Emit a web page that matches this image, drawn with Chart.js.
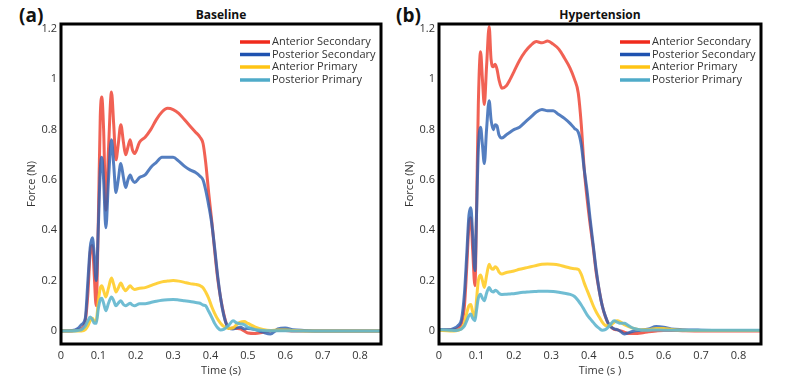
<!DOCTYPE html>
<html>
<head>
<meta charset="utf-8">
<script src="https://cdn.jsdelivr.net/npm/chart.js@4.4.1/dist/chart.umd.min.js"></script>
<style>
  body { margin: 0; background: #fff; width: 800px; height: 387px; position: relative; overflow: hidden; font-family: "Open Sans", sans-serif; }
  canvas { position: absolute; top: 0; }
  .tag { position: absolute; top: 2px; font-weight: bold; font-size: 19px; color: #111; }
  .ttl { position: absolute; top: 6px; font-weight: bold; font-size: 12px; color: #111; transform: translateX(-50%); }
</style>
</head>
<body>
<div class="tag" style="left:19px">(a)</div>
<div class="ttl" style="left:221px">Baseline</div>
<div class="tag" style="left:396px">(b)</div>
<div class="ttl" style="left:600px">Hypertension</div>
<canvas id="baseChart" width="400" height="387" style="left:0"></canvas>
<canvas id="hypChart" width="400" height="387" style="left:400px"></canvas>

<script>
// series names + colours
const seriesNames = ["Anterior Secondary", "Posterior Secondary", "Anterior Primary", "Posterior Primary"];
const lineColors = ["rgba(238,62,46,0.82)", "rgba(46,98,178,0.82)", "rgba(255,204,40,0.9)", "rgba(96,182,206,0.9)"];
const legendColors = ["#f02a1c", "#1f52b0", "#ffc414", "#4fabc9"];

const xTicks = [0, 0.1, 0.2, 0.3, 0.4, 0.5, 0.6, 0.7, 0.8];
const yTicks = [0, 0.2, 0.4, 0.6, 0.8, 1, 1.2];

// (a) Baseline
const baseTime = [0, 0.03, 0.045, 0.055, 0.065, 0.072, 0.078, 0.084, 0.089, 0.094,
  0.1, 0.105, 0.109, 0.114, 0.12, 0.127, 0.135, 0.141, 0.147, 0.153,
  0.16, 0.167, 0.173, 0.179, 0.185, 0.191, 0.197, 0.21, 0.225, 0.24,
  0.255, 0.27, 0.285, 0.3, 0.315, 0.33, 0.345, 0.36, 0.372, 0.38,
  0.387, 0.395, 0.403, 0.411, 0.419, 0.427, 0.435, 0.443, 0.45, 0.46,
  0.47, 0.48, 0.49, 0.5, 0.52, 0.54, 0.56, 0.58, 0.6, 0.62,
  0.65, 0.7, 0.75, 0.8, 0.86];
const baseAntSec = [0, 0, 0.005, 0.01, 0.04, 0.15, 0.31, 0.34, 0.22, 0.10,
  0.45, 0.85, 0.93, 0.8, 0.48, 0.72, 0.95, 0.82, 0.68, 0.74,
  0.82, 0.75, 0.70, 0.73, 0.76, 0.72, 0.705, 0.75, 0.77, 0.80,
  0.84, 0.87, 0.885, 0.88, 0.865, 0.84, 0.815, 0.79, 0.77, 0.745,
  0.67, 0.55, 0.44, 0.32, 0.21, 0.13, 0.07, 0.025, 0.01, 0.012,
  0.01, 0.008, 0, -0.008, -0.01, -0.005, 0, 0.002, 0.002, 0,
  0, 0, 0, 0, 0];
const basePostSec = [0, 0.002, 0.01, 0.025, 0.05, 0.2, 0.33, 0.37, 0.3, 0.2,
  0.42, 0.64, 0.69, 0.6, 0.41, 0.6, 0.76, 0.66, 0.55, 0.6,
  0.665, 0.61, 0.57, 0.6, 0.62, 0.6, 0.59, 0.61, 0.62, 0.65,
  0.67, 0.69, 0.69, 0.69, 0.675, 0.655, 0.64, 0.63, 0.615, 0.6,
  0.56, 0.5, 0.43, 0.33, 0.22, 0.13, 0.065, 0.025, 0.01, 0.008,
  0.012, 0.015, 0.008, 0.01, 0.005, -0.005, -0.012, 0.008, 0.012, 0.005,
  0.002, 0, 0, 0, 0];
const baseAntPri = [0, 0, 0, 0, 0.005, 0.02, 0.04, 0.05, 0.04, 0.04,
  0.12, 0.17, 0.18, 0.16, 0.135, 0.17, 0.21, 0.185, 0.155, 0.17,
  0.19, 0.17, 0.16, 0.17, 0.18, 0.17, 0.165, 0.17, 0.172, 0.18,
  0.188, 0.195, 0.198, 0.2, 0.198, 0.193, 0.188, 0.185, 0.18, 0.172,
  0.155, 0.13, 0.097, 0.07, 0.047, 0.03, 0.018, 0.012, 0.01, 0.012,
  0.025, 0.035, 0.037, 0.03, 0.015, 0.006, 0.002, 0.004, 0.004, 0.002,
  0, 0, 0, 0, 0];
const basePostPri = [0, 0, 0.002, 0.005, 0.02, 0.04, 0.055, 0.045, 0.03, 0.03,
  0.09, 0.125, 0.13, 0.11, 0.08, 0.11, 0.135, 0.12, 0.1, 0.11,
  0.12, 0.105, 0.1, 0.105, 0.11, 0.103, 0.1, 0.108, 0.108, 0.113,
  0.118, 0.122, 0.124, 0.125, 0.123, 0.12, 0.117, 0.113, 0.11, 0.103,
  0.1, 0.078, 0.055, 0.03, 0.013, 0.004, 0.006, 0.015, 0.025, 0.04,
  0.032, 0.028, 0.025, 0.015, 0.005, 0.002, 0.001, 0.001, 0.001, 0,
  0, 0, 0, 0, 0];

// (b) Hypertension
const hypTime = [0, 0.03, 0.04, 0.05, 0.06, 0.068, 0.074, 0.08, 0.085, 0.09,
  0.096, 0.1, 0.105, 0.111, 0.116, 0.121, 0.127, 0.134, 0.139, 0.145,
  0.15, 0.155, 0.16, 0.168, 0.18, 0.19, 0.2, 0.215, 0.23, 0.245,
  0.26, 0.275, 0.29, 0.305, 0.32, 0.335, 0.35, 0.362, 0.372, 0.38,
  0.388, 0.396, 0.404, 0.412, 0.42, 0.428, 0.436, 0.444, 0.452, 0.46,
  0.468, 0.476, 0.485, 0.495, 0.505, 0.52, 0.54, 0.56, 0.58, 0.6,
  0.62, 0.65, 0.7, 0.75, 0.8, 0.86];
const hypAntSec = [0.005, 0.005, 0.005, 0.01, 0.03, 0.1, 0.25, 0.42, 0.45, 0.32,
  0.18, 0.45, 0.9, 1.11, 1.0, 0.9, 1.05, 1.21, 1.08, 1.05,
  1.06, 1.04, 1.0, 0.965, 0.975, 1.0, 1.03, 1.075, 1.11, 1.135,
  1.15, 1.145, 1.152, 1.14, 1.12, 1.085, 1.045, 1.0, 0.945, 0.82,
  0.64, 0.52, 0.42, 0.33, 0.23, 0.16, 0.1, 0.058, 0.03, 0.015,
  0.006, 0.004, 0, -0.005, -0.01, -0.01, -0.008, -0.003, 0, 0.002,
  0.002, 0.001, 0, 0, 0, 0];
const hypPostSec = [0.005, 0.005, 0.01, 0.02, 0.045, 0.15, 0.3, 0.46, 0.49, 0.38,
  0.24, 0.45, 0.72, 0.81, 0.74, 0.665, 0.8, 0.915, 0.84, 0.8,
  0.82, 0.815, 0.78, 0.767, 0.78, 0.79, 0.8, 0.81, 0.83, 0.85,
  0.87, 0.88, 0.875, 0.875, 0.86, 0.845, 0.825, 0.805, 0.79, 0.74,
  0.64, 0.55, 0.44, 0.34, 0.24, 0.16, 0.1, 0.06, 0.03, 0.015,
  0.008, 0.005, -0.002, -0.012, -0.008, 0, 0.003, 0.008, 0.018, 0.015,
  0.008, 0.005, 0.003, 0.002, 0.002, 0.002];
const hypAntPri = [0.002, 0, 0, 0.002, 0.01, 0.03, 0.07, 0.1, 0.105, 0.075,
  0.055, 0.12, 0.2, 0.222, 0.2, 0.173, 0.22, 0.265, 0.25, 0.245,
  0.255, 0.25, 0.235, 0.226, 0.232, 0.235, 0.238, 0.245, 0.25, 0.255,
  0.26, 0.265, 0.266, 0.265, 0.262, 0.256, 0.25, 0.247, 0.245, 0.225,
  0.19, 0.16, 0.13, 0.1, 0.075, 0.055, 0.035, 0.022, 0.02, 0.025,
  0.035, 0.04, 0.035, 0.025, 0.018, 0.01, 0.005, 0.005, 0.01, 0.01,
  0.006, 0.003, 0.002, 0.002, 0.002, 0.002];
const hypPostPri = [0.005, 0.003, 0.002, 0.003, 0.008, 0.02, 0.04, 0.06, 0.067, 0.05,
  0.04, 0.08, 0.13, 0.146, 0.13, 0.12, 0.15, 0.173, 0.16, 0.155,
  0.162, 0.158, 0.15, 0.145, 0.146, 0.147, 0.148, 0.152, 0.154, 0.156,
  0.157, 0.158, 0.158, 0.157, 0.154, 0.15, 0.145, 0.137, 0.12, 0.103,
  0.083, 0.063, 0.048, 0.034, 0.02, 0.01, 0.003, 0.005, 0.015, 0.03,
  0.04, 0.035, 0.03, 0.03, 0.022, 0.01, 0.004, 0.003, 0.004, 0.003,
  0.003, 0.003, 0.003, 0.003, 0.003, 0.003];

// frame + legend drawn inside the plot box
const panelDeco = {
  id: "panelDeco",
  afterDatasetsDraw(chart) {
    const { ctx, chartArea: a } = chart;
    ctx.save();
    ctx.strokeStyle = "#000";
    ctx.lineWidth = 3;
    ctx.strokeRect(a.left, a.top, a.right - a.left, a.bottom - a.top);

    const rows = [18, 30.5, 43, 56];
    ctx.font = "11px 'Open Sans'";
    ctx.textBaseline = "middle";
    ctx.textAlign = "left";
    seriesNames.forEach((name, i) => {
      const y = a.top + rows[i];
      ctx.strokeStyle = legendColors[i];
      ctx.lineWidth = 3.5;
      ctx.beginPath();
      ctx.moveTo(a.right - 141, y);
      ctx.lineTo(a.right - 111, y);
      ctx.stroke();
      ctx.fillStyle = "#333";
      ctx.fillText(name, a.right - 109, y);
    });
    ctx.restore();
  }
};

function makePanel(id, time, series, opt) {
  const datasets = series.map((vals, i) => ({
    label: seriesNames[i],
    data: time.map((t, j) => ({ x: t, y: vals[j] })),
    borderColor: lineColors[i],
    borderWidth: 3,
    pointRadius: 0,
    cubicInterpolationMode: "monotone",
    order: 3 - i
  }));

  new Chart(document.getElementById(id), {
    type: "line",
    data: { datasets },
    plugins: [panelDeco],
    options: {
      responsive: false,
      animation: false,
      layout: { padding: { top: 24, right: opt.right, left: 0, bottom: 0 } },
      plugins: { legend: { display: false }, tooltip: { enabled: false } },
      scales: {
        x: {
          type: "linear",
          min: 0,
          max: opt.xMax,
          afterFit: s => { s.height = 43; },
          afterBuildTicks: s => { s.ticks = xTicks.map(v => ({ value: v })); },
          grid: { display: false, drawTicks: false },
          border: { display: false },
          ticks: { color: "#333", font: { size: 11, family: "Open Sans" }, padding: 5, maxRotation: 0,
            callback: v => String(v) },
          title: { display: true, text: opt.xTitle, color: "#333", font: { size: 11, family: "Open Sans" },
            padding: { top: 0, bottom: 10 } }
        },
        y: {
          min: -0.052,
          max: 1.22,
          afterFit: s => { s.width = opt.left; },
          afterBuildTicks: s => { s.ticks = yTicks.map(v => ({ value: v })); },
          grid: { display: false, drawTicks: false },
          border: { display: false },
          ticks: { color: "#333", font: { size: 11, family: "Open Sans" }, padding: 4,
            callback: v => String(v) },
          title: { display: true, text: "Force (N)", color: "#333", font: { size: 11, family: "Open Sans" },
            padding: { top: opt.yTitlePad, bottom: 0 } }
        }
      }
    }
  });
}

makePanel("baseChart", baseTime, [baseAntSec, basePostSec, baseAntPri, basePostPri],
  { left: 61, right: 19, xMax: 0.856, xTitle: "Time (s)", yTitlePad: 25 });
makePanel("hypChart", hypTime, [hypAntSec, hypPostSec, hypAntPri, hypPostPri],
  { left: 39, right: 39, xMax: 0.86, xTitle: "Time (s )", yTitlePad: 3 });
</script>
</body>
</html>
